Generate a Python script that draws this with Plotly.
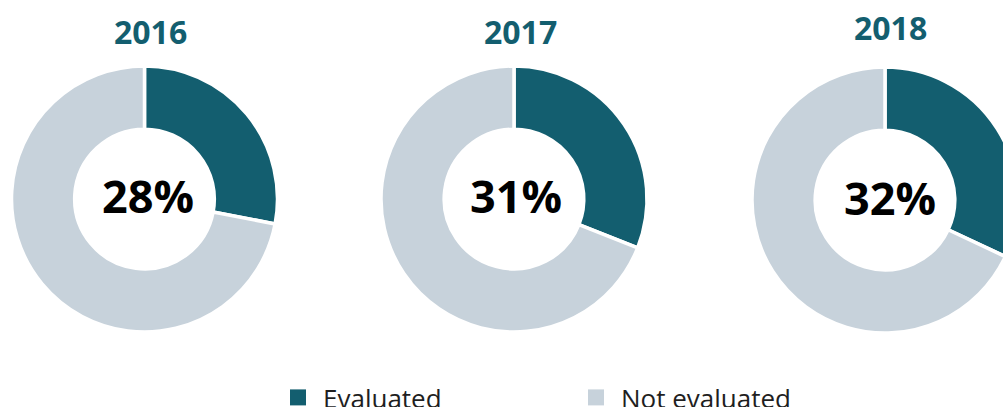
import plotly.graph_objects as go

years = ["2016", "2017", "2018"]
evaluated = [28, 31, 32]
not_evaluated = [72, 69, 68]
center_labels = ["28%", "31%", "32%"]
categories = ["Evaluated", "Not evaluated"]

TEAL = "#135E6F"
GREY = "#C7D2DB"
W, H = 1040, 430

# donut centres / radius in pixels (layout)
centers = [(144.5, 199), (514, 199), (885, 200)]
R = 133
title_pos = [(150, 31.5), (520, 31.5), (890, 27.5)]
label_pos = [(148, 196), (516, 196), (890, 197)]

def px_x(x):
    return x / W

def px_y(y):
    return 1 - y / H

fig = go.Figure()
for i, yr in enumerate(years):
    cx, cy = centers[i]
    fig.add_trace(go.Pie(
        labels=categories,
        values=[evaluated[i], not_evaluated[i]],
        hole=0.525,
        sort=False,
        direction="clockwise",
        rotation=0,
        textinfo="none",
        hoverinfo="label+percent",
        marker=dict(colors=[TEAL, GREY], line=dict(color="white", width=3.5)),
        domain=dict(x=[px_x(cx - R), px_x(cx + R)], y=[px_y(cy + R), px_y(cy - R)]),
        showlegend=False,
    ))

# legend entries
for name, col, lg in [(categories[0], TEAL, "legend"), (categories[1], GREY, "legend2")]:
    fig.add_trace(go.Scatter(
        x=[None], y=[None], mode="markers", name=name,
        marker=dict(symbol="square", size=18, color=col),
        legend=lg, showlegend=True,
    ))

annotations = []
for i, yr in enumerate(years):
    tx, ty = title_pos[i]
    annotations.append(dict(
        x=px_x(tx), y=px_y(ty), xref="paper", yref="paper", text=f"<b>{yr}</b>",
        showarrow=False, xanchor="center", yanchor="middle",
        font=dict(family="Open Sans", size=32, color=TEAL)))
    lx, ly = label_pos[i]
    annotations.append(dict(
        x=px_x(lx), y=px_y(ly), xref="paper", yref="paper", text=f"<b>{center_labels[i]}</b>",
        showarrow=False, xanchor="center", yanchor="middle",
        font=dict(family="Open Sans", size=45, color="#000000")))

legend_font = dict(family="Open Sans", size=26, color="#1f1f1f")
fig.update_layout(
    width=W, height=H,
    margin=dict(l=0, r=0, t=0, b=0),
    paper_bgcolor="white", plot_bgcolor="white",
    xaxis=dict(visible=False), yaxis=dict(visible=False),
    annotations=annotations,
    legend=dict(x=px_x(273), y=px_y(374), xanchor="left", yanchor="top",
                orientation="h", font=legend_font, bgcolor="rgba(0,0,0,0)", itemwidth=40),
    legend2=dict(x=px_x(571), y=px_y(374), xanchor="left", yanchor="top",
                 orientation="h", font=legend_font, bgcolor="rgba(0,0,0,0)", itemwidth=40),
)

fig.write_html("out.html", config={"displayModeBar": False},
               post_script="document.body.style.margin='0';document.body.style.overflow='hidden';")
